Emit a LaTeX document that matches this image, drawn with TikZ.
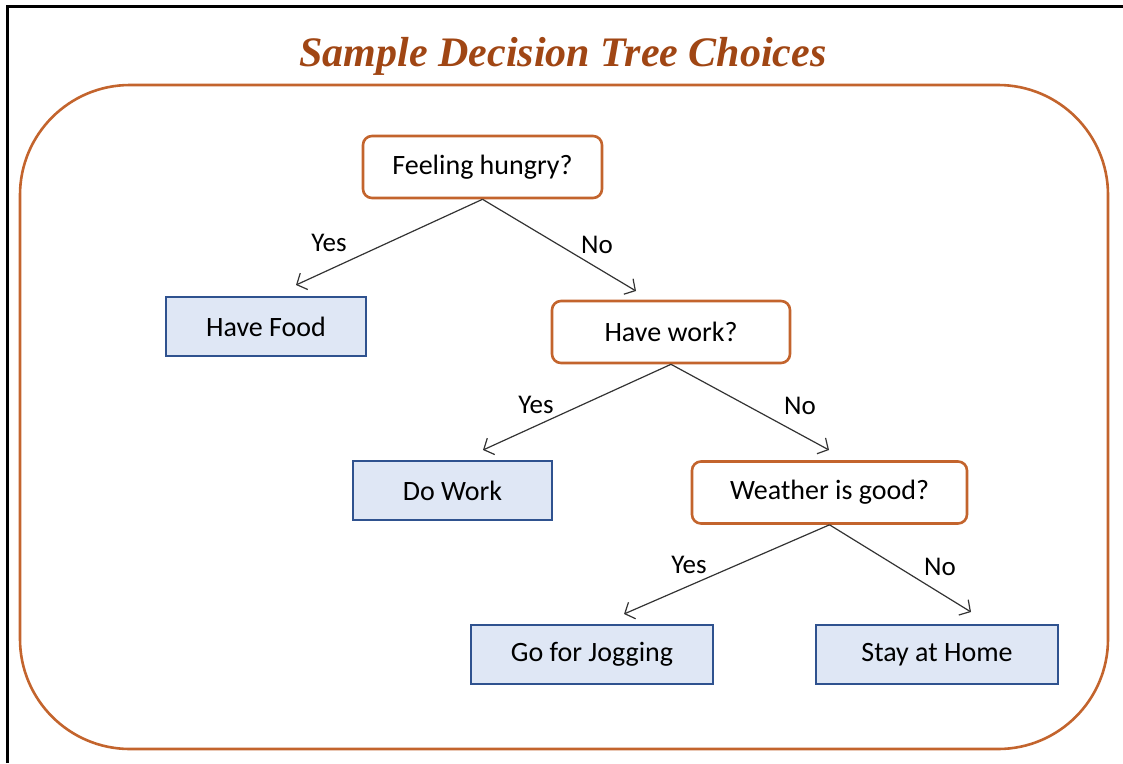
\documentclass[tikz,border=0pt]{standalone}
\usepackage{fontspec}
\setmainfont{Carlito}
\newfontfamily\titlefont{Liberation Serif}
\usetikzlibrary{arrows.meta}
\definecolor{titlebrown}{RGB}{160,70,20}
\definecolor{qborder}{RGB}{195,100,45}
\definecolor{aborder}{RGB}{47,82,143}
\definecolor{afill}{RGB}{223,231,245}
\tikzset{
  question/.style={draw=qborder, line width=2.6pt, fill=white, rounded corners=9pt,
    minimum height=62pt, inner sep=0pt, font=\fontsize{28}{32}\selectfont},
  answer/.style={draw=aborder, line width=2.4pt, fill=afill,
    minimum height=59pt, inner sep=0pt, font=\fontsize{28}{32}\selectfont},
  branch/.style={draw=black!80, line width=1.2pt, -{Straight Barb[length=8pt,width=18pt,line width=1.2pt]}},
  lbl/.style={font=\fontsize{27}{31}\selectfont, inner sep=0pt}
}
\begin{document}
\begin{tikzpicture}[x=1pt,y=-1pt]
\useasboundingbox (0,0) rectangle (1123,763);
\draw[line width=3pt, black] (7,763) -- (7,6) -- (1123,6);
\draw[qborder, line width=2.6pt, rounded corners=110pt] (20,85) rectangle (1108,749);
\node[text=titlebrown, font=\titlefont\fontsize{42}{46}\selectfont\bfseries\itshape] (title) at (563,56) {Sample Decision Tree Choices};

\node[question, minimum width=239pt] (hungry) at (482.5,167) {Feeling hungry?};
\node[answer, minimum width=200pt] (food) at (266,326.5) {Have Food};
\node[question, minimum width=238pt] (work) at (671,332) {Have work?};
\node[answer, minimum width=199pt] (dowork) at (452.5,490.5) {Do Work};
\node[question, minimum width=275pt] (weather) at (829.5,492.5) {Weather is good?};
\node[answer, minimum width=242pt] (jog) at (592,654.5) {Go for Jogging};
\node[answer, minimum width=242pt] (home) at (937,654.5) {Stay at Home};

\coordinate (e1) at (296,285);
\coordinate (e2) at (636,291);
\coordinate (e3) at (483,450);
\coordinate (e4) at (829,450);
\coordinate (e5) at (624,614);
\coordinate (e6) at (971,612);

\draw[branch] (hungry.south) -- (e1);
\draw[branch] (hungry.south) -- (e2);
\draw[branch] (work.south) -- (e3);
\draw[branch] (work.south) -- (e4);
\draw[branch] (weather.south) -- (e5);
\draw[branch] (weather.south) -- (e6);

\node[lbl] (y1) at (329,243) {Yes};
\node[lbl] (n1) at (597,245) {No};
\node[lbl] (y2) at (536,405) {Yes};
\node[lbl] (n2) at (800,406) {No};
\node[lbl] (y3) at (689,565) {Yes};
\node[lbl] (n3) at (940,567) {No};
\end{tikzpicture}
\end{document}
